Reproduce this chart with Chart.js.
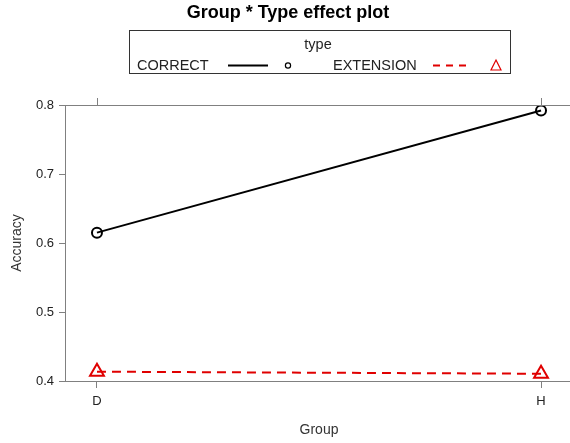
<!DOCTYPE html>
<html><head><meta charset="utf-8">
<script src="https://cdn.jsdelivr.net/npm/chart.js@4/dist/chart.umd.min.js"></script>
<style>html,body{margin:0;padding:0;background:#fff;overflow:hidden;width:570px;height:443px}
#wrap{position:absolute;left:0;top:0;width:583px;height:443px}</style>
</head><body>
<div id="wrap"><canvas id="c" width="583" height="443"></canvas></div>
<script>
const categories = ['D', 'H'];
const seriesNames = ['CORRECT', 'EXTENSION'];
const correctValues = [0.615, 0.792];
const extensionValues = [0.4135, 0.4105];
const yTicks = [0.4, 0.5, 0.6, 0.7, 0.8];
const titleText = 'Group * Type effect plot';
const legendTitle = 'type';
const xTitle = 'Group';
const yTitle = 'Accuracy';

const FONT = '"Liberation Sans", Arial, sans-serif';
const GRAY = '#808080';
const RED = '#e00000';

const decor = {
  id: 'decor',
  afterDraw(chart) {
    const ctx = chart.ctx, a = chart.chartArea, xs = chart.scales.x;
    ctx.save();
    ctx.strokeStyle = GRAY; ctx.lineWidth = 1;
    ctx.beginPath();
    ctx.moveTo(a.left, a.top + 0.5); ctx.lineTo(a.right, a.top + 0.5);
    ctx.moveTo(a.right - 0.5, a.top); ctx.lineTo(a.right - 0.5, a.bottom);
    ctx.stroke();
    ctx.beginPath();
    categories.forEach((c, i) => {
      const px = Math.round(xs.getPixelForValue(i)) + 0.5;
      ctx.moveTo(px, a.top); ctx.lineTo(px, a.top - 7);
    });
    ctx.stroke();
    ctx.fillStyle = '#000';
    ctx.font = 'bold 18px ' + FONT;
    ctx.textAlign = 'center'; ctx.textBaseline = 'middle';
    ctx.fillText(titleText, 288, 13);
    ctx.strokeStyle = '#333'; ctx.lineWidth = 1;
    ctx.strokeRect(129.5, 30.5, 381, 43);
    ctx.font = '14.5px ' + FONT;
    ctx.fillStyle = '#222';
    ctx.fillText(legendTitle, 318, 45);
    ctx.textAlign = 'left';
    ctx.fillText(seriesNames[0], 137, 66);
    ctx.fillText(seriesNames[1], 333, 66);
    ctx.lineWidth = 2;
    ctx.strokeStyle = '#000';
    ctx.beginPath(); ctx.moveTo(228, 65.5); ctx.lineTo(268, 65.5); ctx.stroke();
    ctx.lineWidth = 1.2;
    ctx.beginPath(); ctx.arc(288, 65.5, 2.6, 0, Math.PI * 2); ctx.stroke();
    ctx.strokeStyle = RED; ctx.lineWidth = 2;
    ctx.setLineDash([7, 6]);
    ctx.beginPath(); ctx.moveTo(433, 65.5); ctx.lineTo(472, 65.5); ctx.stroke();
    ctx.setLineDash([]);
    ctx.lineWidth = 1.2;
    ctx.beginPath(); ctx.moveTo(496, 60); ctx.lineTo(501, 70); ctx.lineTo(491, 70); ctx.closePath(); ctx.stroke();
    ctx.restore();
  }
};

new Chart(document.getElementById('c'), {
  type: 'line',
  data: {
    datasets: [
      {
        label: seriesNames[0],
        data: categories.map((c, i) => ({ x: i, y: correctValues[i] })),
        borderColor: '#000', borderWidth: 2,
        pointStyle: 'circle', pointRadius: 5, pointBorderWidth: 2,
        pointBorderColor: '#000', pointBackgroundColor: 'rgba(255,255,255,0)'
      },
      {
        label: seriesNames[1],
        data: categories.map((c, i) => ({ x: i, y: extensionValues[i] })),
        borderColor: RED, borderWidth: 2, borderDash: [9, 6],
        pointStyle: 'triangle', pointRadius: 8, pointBorderWidth: 2,
        pointBorderColor: RED, pointBackgroundColor: 'rgba(255,255,255,0)'
      }
    ]
  },
  options: {
    responsive: false, animation: false,
    layout: { padding: { top: 105, left: 0, right: 2, bottom: 0 } },
    plugins: { legend: { display: false }, tooltip: { enabled: false } },
    scales: {
      x: {
        type: 'linear', min: -0.072, max: 1.072,
        afterBuildTicks: s => { s.ticks = categories.map((c, i) => ({ value: i })); },
        afterFit: s => { s.height = 62; s.paddingLeft = 0; s.paddingRight = 0; },
        border: { color: GRAY, width: 1 },
        grid: { drawOnChartArea: false, tickLength: 7, color: GRAY },
        ticks: { callback: (v) => categories[v], color: '#222', font: { family: FONT, size: 13 }, padding: 6, maxRotation: 0 },
        title: { display: true, text: xTitle, color: '#333', font: { family: FONT, size: 14 }, padding: { top: 16 } }
      },
      y: {
        min: 0.4, max: 0.8,
        afterBuildTicks: s => { s.ticks = yTicks.map(v => ({ value: v })); },
        afterFit: s => { s.width = 65; s.paddingTop = 0; s.paddingBottom = 0; },
        border: { color: GRAY, width: 1 },
        grid: { drawOnChartArea: false, tickLength: 6, color: GRAY },
        ticks: { callback: v => v.toFixed(1), color: '#222', font: { family: FONT, size: 13 }, padding: 5 },
        title: { display: true, text: yTitle, color: '#333', font: { family: FONT, size: 14 }, padding: { top: 9, bottom: 6 } }
      }
    }
  },
  plugins: [decor]
});
</script>
</body></html>
